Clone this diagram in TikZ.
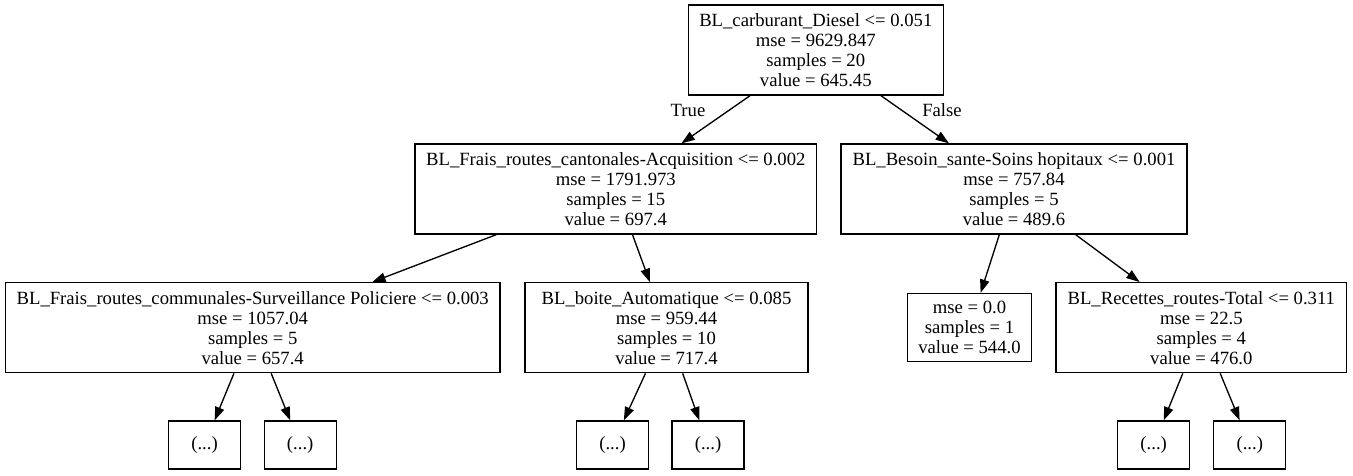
\documentclass[tikz,border=0pt]{standalone}
\usepackage{fontspec}
\setmainfont{Liberation Serif}
\usepackage{tikz}
\usetikzlibrary{arrows.meta}
\begin{document}
\begin{tikzpicture}[x=0.75pt,y=-0.75pt,>={Triangle[length=10pt,width=7pt]},line width=1pt]
  \tikzstyle{split}=[rectangle,draw,fill=white,align=center,inner sep=0pt,minimum height=67.5pt,font=\fontsize{14}{15}\selectfont]
  \tikzstyle{leaf}=[split,minimum height=51pt]
  \tikzstyle{more}=[split,minimum width=54pt,minimum height=36pt]
  \tikzstyle{lab}=[font=\fontsize{14}{15}\selectfont]
  \useasboundingbox (0,0) rectangle (1353,475);
  % root and first split
  \node(root) at (815.8,50)[split,minimum width=191.25pt]{BL\_carburant\_Diesel <= 0.051\\mse = 9629.847\\samples = 20\\value = 645.45};
  \node(acq) at (615.8,189)[split,minimum width=301.3pt]{BL\_Frais\_routes\_cantonales-Acquisition <= 0.002\\mse = 1791.973\\samples = 15\\value = 697.4};
  \node(sante) at (1014,189)[split,minimum width=259.5pt]{BL\_Besoin\_sante-Soins hopitaux <= 0.001\\mse = 757.84\\samples = 5\\value = 489.6};
  \node(true-lab) at (688,110)[lab]{True};
  \node(false-lab) at (942,110)[lab]{False};
  % second level
  \node(police) at (252.7,327.7)[split,minimum width=371pt]{BL\_Frais\_routes\_communales-Surveillance Policiere <= 0.003\\mse = 1057.04\\samples = 5\\value = 657.4};
  \node(boite) at (666.5,327.7)[split,minimum width=212.3pt]{BL\_boite\_Automatique <= 0.085\\mse = 959.44\\samples = 10\\value = 717.4};
  \node(pure) at (969.5,327.5)[leaf,minimum width=93pt]{mse = 0.0\\samples = 1\\value = 544.0};
  \node(recettes) at (1201.3,327.7)[split,minimum width=218pt]{BL\_Recettes\_routes-Total <= 0.311\\mse = 22.5\\samples = 4\\value = 476.0};
  % truncated children
  \node(police-l) at (204.5,445)[more]{(...)};
  \node(police-r) at (300.2,445)[more]{(...)};
  \node(boite-l) at (612.5,445)[more]{(...)};
  \node(boite-r) at (708,445)[more]{(...)};
  \node(recettes-l) at (1153.7,445)[more]{(...)};
  \node(recettes-r) at (1249.8,445)[more]{(...)};
  \draw[->](root)--(acq);
  \draw[->](root)--(sante);
  \draw[->](acq)--(police);
  \draw[->](acq)--(boite);
  \draw[->](sante)--(pure);
  \draw[->](sante)--(recettes);
  \draw[->](police)--(police-l);
  \draw[->](police)--(police-r);
  \draw[->](boite)--(boite-l);
  \draw[->](boite)--(boite-r);
  \draw[->](recettes)--(recettes-l);
  \draw[->](recettes)--(recettes-r);
\end{tikzpicture}
\end{document}
